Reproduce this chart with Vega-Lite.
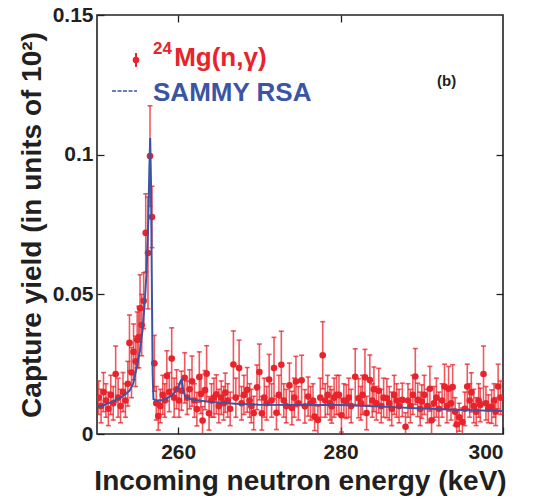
{
  "$schema": "https://vega.github.io/schema/vega-lite/v6.json",
  "autosize": "none",
  "width": 406,
  "height": 419,
  "padding": {"left": 97, "top": 15, "right": 32, "bottom": 65},
  "background": "white",
  "config": {
    "view": {"stroke": "#222222", "strokeWidth": 1.6},
    "font": "Liberation Sans"
  },
  "datasets": {
    "points": [
      {"x": 250.2, "y": 0.013, "e": 0.006}, {"x": 250.5, "y": 0.010, "e": 0.006}, {"x": 250.8, "y": 0.015, "e": 0.007},
      {"x": 251.1, "y": 0.012, "e": 0.006}, {"x": 251.4, "y": 0.009, "e": 0.006}, {"x": 251.7, "y": 0.014, "e": 0.007},
      {"x": 252.0, "y": 0.011, "e": 0.006}, {"x": 252.3, "y": 0.0215, "e": 0.010}, {"x": 252.6, "y": 0.013, "e": 0.007},
      {"x": 252.9, "y": 0.010, "e": 0.006}, {"x": 253.2, "y": 0.015, "e": 0.007}, {"x": 253.5, "y": 0.012, "e": 0.006},
      {"x": 253.8, "y": 0.018, "e": 0.008}, {"x": 254.0, "y": 0.0326, "e": 0.010}, {"x": 254.25, "y": 0.022, "e": 0.009},
      {"x": 254.5, "y": 0.0294, "e": 0.010}, {"x": 254.75, "y": 0.026, "e": 0.009}, {"x": 254.95, "y": 0.0337, "e": 0.010},
      {"x": 255.15, "y": 0.0347, "e": 0.011}, {"x": 255.3, "y": 0.045, "e": 0.012}, {"x": 255.5, "y": 0.039, "e": 0.011},
      {"x": 255.75, "y": 0.0477, "e": 0.010}, {"x": 256.0, "y": 0.072, "e": 0.014}, {"x": 256.28, "y": 0.0648, "e": 0.020},
      {"x": 256.53, "y": 0.0995, "e": 0.018}, {"x": 256.77, "y": 0.0777, "e": 0.011}, {"x": 257.06, "y": 0.0253, "e": 0.010},
      {"x": 257.3, "y": 0.011, "e": 0.006}, {"x": 257.55, "y": 0.0064, "e": 0.005}, {"x": 257.8, "y": 0.010, "e": 0.006},
      {"x": 258.1, "y": 0.014, "e": 0.007}, {"x": 258.35, "y": 0.012, "e": 0.006}, {"x": 258.6, "y": 0.0208, "e": 0.009},
      {"x": 258.9, "y": 0.015, "e": 0.007}, {"x": 259.2, "y": 0.027, "e": 0.011}, {"x": 259.5, "y": 0.013, "e": 0.007},
      {"x": 259.8, "y": 0.016, "e": 0.007}, {"x": 260.1, "y": 0.012, "e": 0.006}, {"x": 260.4, "y": 0.0155, "e": 0.007},
      {"x": 260.8, "y": 0.0201, "e": 0.009}, {"x": 261.1, "y": 0.013, "e": 0.006}, {"x": 261.4, "y": 0.016, "e": 0.007},
      {"x": 261.7, "y": 0.0189, "e": 0.009}, {"x": 262.0, "y": 0.012, "e": 0.006}, {"x": 262.3, "y": 0.0089, "e": 0.006},
      {"x": 262.6, "y": 0.0204, "e": 0.009}, {"x": 262.8, "y": 0.0143, "e": 0.007}, {"x": 263.0, "y": 0.0048, "e": 0.005},
      {"x": 263.3, "y": 0.0157, "e": 0.007}, {"x": 263.5, "y": 0.0216, "e": 0.010}, {"x": 263.8, "y": 0.0074, "e": 0.006},
      {"x": 264.1, "y": 0.012, "e": 0.006}, {"x": 264.4, "y": 0.013, "e": 0.007}, {"x": 264.7, "y": 0.0142, "e": 0.007},
      {"x": 265.0, "y": 0.010, "e": 0.006}, {"x": 265.3, "y": 0.013, "e": 0.006}, {"x": 265.6, "y": 0.011, "e": 0.006},
      {"x": 265.8, "y": 0.0148, "e": 0.007}, {"x": 266.1, "y": 0.012, "e": 0.006}, {"x": 266.4, "y": 0.009, "e": 0.006},
      {"x": 266.8, "y": 0.0249, "e": 0.012}, {"x": 267.1, "y": 0.013, "e": 0.007}, {"x": 267.5, "y": 0.0236, "e": 0.010},
      {"x": 267.8, "y": 0.011, "e": 0.006}, {"x": 268.1, "y": 0.014, "e": 0.007}, {"x": 268.5, "y": 0.0158, "e": 0.008},
      {"x": 268.8, "y": 0.012, "e": 0.006}, {"x": 269.0, "y": 0.010, "e": 0.006}, {"x": 269.3, "y": 0.0075, "e": 0.006},
      {"x": 269.7, "y": 0.0167, "e": 0.008}, {"x": 270.0, "y": 0.0222, "e": 0.010}, {"x": 270.3, "y": 0.0074, "e": 0.006},
      {"x": 270.6, "y": 0.013, "e": 0.007}, {"x": 270.9, "y": 0.011, "e": 0.006}, {"x": 271.2, "y": 0.0195, "e": 0.009},
      {"x": 271.5, "y": 0.012, "e": 0.006}, {"x": 271.8, "y": 0.0236, "e": 0.011}, {"x": 272.1, "y": 0.0076, "e": 0.006},
      {"x": 272.4, "y": 0.014, "e": 0.007}, {"x": 272.7, "y": 0.0248, "e": 0.012}, {"x": 273.0, "y": 0.012, "e": 0.006},
      {"x": 273.3, "y": 0.010, "e": 0.006}, {"x": 273.7, "y": 0.0174, "e": 0.008}, {"x": 274.0, "y": 0.0093, "e": 0.006},
      {"x": 274.3, "y": 0.013, "e": 0.007}, {"x": 274.5, "y": 0.0188, "e": 0.009}, {"x": 274.8, "y": 0.011, "e": 0.006},
      {"x": 275.2, "y": 0.0192, "e": 0.009}, {"x": 275.6, "y": 0.0099, "e": 0.006}, {"x": 276.0, "y": 0.0134, "e": 0.007},
      {"x": 276.3, "y": 0.011, "e": 0.006}, {"x": 276.6, "y": 0.012, "e": 0.006}, {"x": 276.8, "y": 0.0062, "e": 0.005},
      {"x": 277.2, "y": 0.005, "e": 0.005}, {"x": 277.5, "y": 0.013, "e": 0.007}, {"x": 277.8, "y": 0.0282, "e": 0.012},
      {"x": 278.1, "y": 0.012, "e": 0.006}, {"x": 278.4, "y": 0.014, "e": 0.007}, {"x": 278.7, "y": 0.011, "e": 0.006},
      {"x": 278.9, "y": 0.0099, "e": 0.006}, {"x": 279.2, "y": 0.013, "e": 0.007}, {"x": 279.5, "y": 0.014, "e": 0.007},
      {"x": 279.8, "y": 0.014, "e": 0.007}, {"x": 280.1, "y": 0.0067, "e": 0.006}, {"x": 280.4, "y": 0.012, "e": 0.006},
      {"x": 280.7, "y": 0.0116, "e": 0.006}, {"x": 281.0, "y": 0.013, "e": 0.007}, {"x": 281.3, "y": 0.010, "e": 0.006},
      {"x": 281.8, "y": 0.0205, "e": 0.010}, {"x": 282.2, "y": 0.0128, "e": 0.007}, {"x": 282.5, "y": 0.011, "e": 0.006},
      {"x": 282.7, "y": 0.014, "e": 0.007}, {"x": 283.0, "y": 0.0203, "e": 0.010}, {"x": 283.2, "y": 0.0075, "e": 0.006},
      {"x": 283.6, "y": 0.0193, "e": 0.009}, {"x": 283.9, "y": 0.012, "e": 0.006}, {"x": 284.1, "y": 0.016, "e": 0.008},
      {"x": 284.4, "y": 0.011, "e": 0.006}, {"x": 284.7, "y": 0.0155, "e": 0.008}, {"x": 285.0, "y": 0.010, "e": 0.006},
      {"x": 285.3, "y": 0.013, "e": 0.007}, {"x": 285.7, "y": 0.0128, "e": 0.007}, {"x": 286.0, "y": 0.011, "e": 0.006},
      {"x": 286.3, "y": 0.009, "e": 0.006}, {"x": 286.6, "y": 0.014, "e": 0.007}, {"x": 286.9, "y": 0.012, "e": 0.006},
      {"x": 287.2, "y": 0.010, "e": 0.006}, {"x": 287.6, "y": 0.0122, "e": 0.006}, {"x": 288.0, "y": 0.0026, "e": 0.005},
      {"x": 288.3, "y": 0.012, "e": 0.006}, {"x": 288.6, "y": 0.010, "e": 0.006}, {"x": 288.9, "y": 0.014, "e": 0.007},
      {"x": 289.2, "y": 0.0206, "e": 0.010}, {"x": 289.5, "y": 0.0122, "e": 0.006}, {"x": 289.8, "y": 0.009, "e": 0.006},
      {"x": 290.0, "y": 0.0116, "e": 0.006}, {"x": 290.3, "y": 0.014, "e": 0.007}, {"x": 290.7, "y": 0.010, "e": 0.006},
      {"x": 291.0, "y": 0.0162, "e": 0.008}, {"x": 291.2, "y": 0.0049, "e": 0.005}, {"x": 291.5, "y": 0.011, "e": 0.006},
      {"x": 291.8, "y": 0.013, "e": 0.007}, {"x": 292.1, "y": 0.009, "e": 0.006}, {"x": 292.5, "y": 0.012, "e": 0.006},
      {"x": 292.8, "y": 0.017, "e": 0.008}, {"x": 293.1, "y": 0.010, "e": 0.006}, {"x": 293.3, "y": 0.0162, "e": 0.008},
      {"x": 293.6, "y": 0.011, "e": 0.006}, {"x": 293.8, "y": 0.0168, "e": 0.008}, {"x": 294.1, "y": 0.008, "e": 0.005},
      {"x": 294.3, "y": 0.0034, "e": 0.005}, {"x": 294.6, "y": 0.006, "e": 0.005}, {"x": 295.0, "y": 0.0043, "e": 0.005},
      {"x": 295.3, "y": 0.009, "e": 0.006}, {"x": 295.6, "y": 0.017, "e": 0.008}, {"x": 295.9, "y": 0.012, "e": 0.006},
      {"x": 296.1, "y": 0.0149, "e": 0.007}, {"x": 296.4, "y": 0.010, "e": 0.006}, {"x": 296.7, "y": 0.008, "e": 0.005},
      {"x": 297.0, "y": 0.012, "e": 0.006}, {"x": 297.2, "y": 0.0104, "e": 0.006}, {"x": 297.6, "y": 0.0215, "e": 0.010},
      {"x": 297.9, "y": 0.011, "e": 0.006}, {"x": 298.2, "y": 0.009, "e": 0.005}, {"x": 298.6, "y": 0.0098, "e": 0.006},
      {"x": 298.9, "y": 0.012, "e": 0.006}, {"x": 299.1, "y": 0.008, "e": 0.005}, {"x": 299.4, "y": 0.017, "e": 0.008},
      {"x": 299.7, "y": 0.013, "e": 0.006}
    ],
    "curve": [
      {"x": 250.0, "y": 0.0095}, {"x": 251.0, "y": 0.0105}, {"x": 252.0, "y": 0.0118}, {"x": 253.0, "y": 0.0132},
      {"x": 253.7, "y": 0.0147}, {"x": 254.0, "y": 0.0155}, {"x": 254.45, "y": 0.018}, {"x": 254.9, "y": 0.024},
      {"x": 255.3, "y": 0.030}, {"x": 255.6, "y": 0.037}, {"x": 255.9, "y": 0.048}, {"x": 256.1, "y": 0.058},
      {"x": 256.3, "y": 0.075}, {"x": 256.45, "y": 0.095}, {"x": 256.55, "y": 0.106}, {"x": 256.65, "y": 0.090},
      {"x": 256.75, "y": 0.055}, {"x": 256.85, "y": 0.022}, {"x": 256.95, "y": 0.0125}, {"x": 257.3, "y": 0.0120},
      {"x": 258.0, "y": 0.0122}, {"x": 258.6, "y": 0.0128}, {"x": 259.2, "y": 0.0138}, {"x": 259.6, "y": 0.0150},
      {"x": 260.0, "y": 0.0168}, {"x": 260.3, "y": 0.0190}, {"x": 260.45, "y": 0.0195}, {"x": 260.6, "y": 0.0160},
      {"x": 260.8, "y": 0.0140}, {"x": 261.0, "y": 0.0130}, {"x": 262.0, "y": 0.0122}, {"x": 264.0, "y": 0.0115},
      {"x": 267.0, "y": 0.0108}, {"x": 270.0, "y": 0.0105}, {"x": 275.0, "y": 0.0104}, {"x": 280.0, "y": 0.0104},
      {"x": 285.0, "y": 0.0098}, {"x": 290.0, "y": 0.0091}, {"x": 295.0, "y": 0.0086}, {"x": 300.0, "y": 0.0082}
    ]
  },
  "resolve": {"axis": {"x": "independent", "y": "independent"}},
  "layer": [
    {
      "data": {"name": "points"},
      "mark": {"type": "errorbar", "ticks": true, "color": "#e8232b", "opacity": 0.75, "clip": true, "thickness": 1.6},
      "encoding": {
        "x": {"field": "x", "type": "quantitative", "scale": {"domain": [250, 300], "nice": false}, "axis": null},
        "y": {"field": "y", "type": "quantitative", "scale": {"domain": [0, 0.15], "nice": false}, "axis": null},
        "yError": {"field": "e"}
      }
    },
    {
      "data": {"name": "points"},
      "mark": {"type": "point", "filled": true, "size": 44, "color": "#e8232b", "opacity": 1, "clip": true},
      "encoding": {
        "x": {"field": "x", "type": "quantitative", "scale": {"domain": [250, 300], "nice": false},
          "axis": {"orient": "bottom", "values": [260, 280, 300], "title": "Incoming neutron energy (keV)",
            "titleFontSize": 28, "titleFontWeight": "bold", "titleColor": "#231f20", "titlePadding": 5,
            "labelFontSize": 21, "labelFontWeight": "bold", "labelColor": "#231f20", "labelPadding": 14,
            "tickSize": -7, "tickColor": "#222222", "tickWidth": 1.3, "domain": false, "grid": false}},
        "y": {"field": "y", "type": "quantitative", "scale": {"domain": [0, 0.15], "nice": false},
          "axis": {"orient": "left", "values": [0, 0.05, 0.1, 0.15], "format": ".2~f", "title": "Capture yield (in units of 10²)",
            "titleFontSize": 28, "titleFontWeight": "bold", "titleColor": "#231f20", "titlePadding": 6,
            "labelFontSize": 21, "labelFontWeight": "bold", "labelColor": "#231f20", "labelPadding": 11,
            "tickSize": -7, "tickColor": "#222222", "tickWidth": 1.3, "domain": false, "grid": false}}
      }
    },
    {
      "data": {"name": "curve"},
      "mark": {"type": "line", "color": "#3b55a5", "strokeWidth": 2, "clip": true},
      "encoding": {
        "x": {"field": "x", "type": "quantitative", "scale": {"domain": [250, 300], "nice": false},
          "axis": {"orient": "top", "values": [260, 280], "labels": false, "title": null, "tickSize": -7,
            "tickColor": "#222222", "tickWidth": 1.3, "domain": false, "grid": false}},
        "y": {"field": "y", "type": "quantitative", "scale": {"domain": [0, 0.15], "nice": false},
          "axis": {"orient": "right", "values": [0.05, 0.1], "labels": false, "title": null, "tickSize": -7,
            "tickColor": "#222222", "tickWidth": 1.3, "domain": false, "grid": false}}
      }
    },
    {
      "data": {"values": [{}]},
      "mark": {"type": "rule", "color": "#e8232b", "strokeWidth": 2},
      "encoding": {
        "x": {"datum": 254.8, "type": "quantitative", "axis": null},
        "y": {"datum": 0.1314, "type": "quantitative", "axis": null},
        "y2": {"datum": 0.1364}
      }
    },
    {
      "data": {"values": [{}]},
      "mark": {"type": "point", "filled": true, "size": 44, "color": "#e8232b", "opacity": 1},
      "encoding": {
        "x": {"datum": 254.8, "type": "quantitative", "axis": null},
        "y": {"datum": 0.1339, "type": "quantitative", "axis": null}
      }
    },
    {
      "data": {"values": [{}]},
      "mark": {"type": "rule", "color": "#3b55a5", "strokeWidth": 1.5, "strokeDash": [4, 1.5]},
      "encoding": {
        "x": {"datum": 251.85, "type": "quantitative", "axis": null},
        "x2": {"datum": 254.93},
        "y": {"datum": 0.1228, "type": "quantitative", "axis": null}
      }
    },
    {
      "data": {"values": [{}]},
      "mark": {"type": "text", "text": "24", "fontSize": 17, "fontWeight": "bold", "color": "#e8232b", "align": "left", "baseline": "alphabetic"},
      "encoding": {
        "x": {"datum": 256.9, "type": "quantitative", "axis": null},
        "y": {"datum": 0.1361, "type": "quantitative", "axis": null}
      }
    },
    {
      "data": {"values": [{}]},
      "mark": {"type": "text", "text": "Mg(n,γ)", "fontSize": 26, "fontWeight": "bold", "color": "#e8232b", "align": "left", "baseline": "alphabetic"},
      "encoding": {
        "x": {"datum": 259.5, "type": "quantitative", "axis": null},
        "y": {"datum": 0.1318, "type": "quantitative", "axis": null}
      }
    },
    {
      "data": {"values": [{}]},
      "mark": {"type": "text", "text": "SAMMY RSA", "fontSize": 26, "fontWeight": "bold", "color": "#3b55a5", "align": "left", "baseline": "alphabetic"},
      "encoding": {
        "x": {"datum": 256.9, "type": "quantitative", "axis": null},
        "y": {"datum": 0.1193, "type": "quantitative", "axis": null}
      }
    },
    {
      "data": {"values": [{}]},
      "mark": {"type": "text", "text": "(b)", "fontSize": 15, "fontWeight": "bold", "color": "#231f20", "align": "left", "baseline": "alphabetic"},
      "encoding": {
        "x": {"datum": 291.87, "type": "quantitative", "axis": null},
        "y": {"datum": 0.1246, "type": "quantitative", "axis": null}
      }
    }
  ]
}
